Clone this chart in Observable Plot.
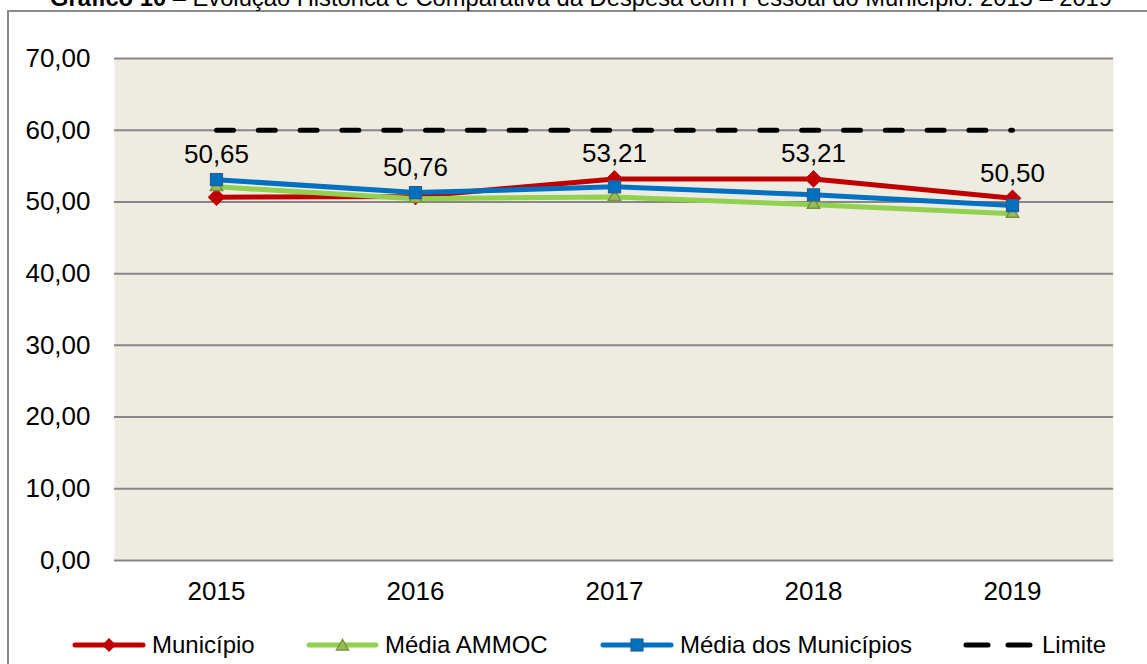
<!DOCTYPE html>
<html><head><meta charset="utf-8">
<script src="https://cdn.jsdelivr.net/npm/d3@7"></script>
<script src="https://cdn.jsdelivr.net/npm/@observablehq/plot@0.6"></script>
<style>
body{margin:0;background:#fff;font-family:"Liberation Sans",Arial,sans-serif;}
#wrap{position:relative;width:1147px;height:664px;overflow:hidden;background:#fff;}
#border{position:absolute;left:7px;top:10px;width:1300px;height:800px;border:2px solid #8a8a8a;box-sizing:border-box;}
#title{position:absolute;left:50px;top:-14px;font-size:24px;line-height:1;white-space:nowrap;transform-origin:0 0;color:#000;}
#chart{position:absolute;left:0;top:0;}
.lg{position:absolute;top:631px;height:28px;display:flex;align-items:center;font-size:24px;color:#000;white-space:nowrap;}
.lg svg{margin-right:7px;overflow:visible;}
</style></head>
<body>
<div id="wrap">
  <div id="border"></div>
  <div id="title"><b>Gráfico 10</b> – Evolução Histórica e Comparativa da Despesa com Pessoal do Município: 2015 – 2019</div>
  <div id="chart"></div>
</div>
<script>
const years = ["2015", "2016", "2017", "2018", "2019"];
const municipio = [50.65, 50.76, 53.21, 53.21, 50.50];
const mediaAmmoc = [52.1, 50.45, 50.7, 49.6, 48.35];
const mediaMunicipios = [53.1, 51.3, 52.1, 51.0, 49.5];
const limite = [60, 60, 60, 60, 60];
const yTicks = [0, 10, 20, 30, 40, 50, 60, 70];
const seriesNames = ["Município", "Média AMMOC", "Média dos Municípios", "Limite"];

const RED = "#C00000", GREEN = "#92D050", BLUE = "#0070C0";
const fmt = v => v.toFixed(2).replace(".", ",");

const rows = years.map((y, i) => ({
  year: y, mun: municipio[i], ammoc: mediaAmmoc[i], medMun: mediaMunicipios[i], lim: limite[i],
  top: Math.max(municipio[i], mediaAmmoc[i], mediaMunicipios[i])
}));

const chart = Plot.plot({
  width: 1147, height: 620,
  marginLeft: 114, marginRight: 34, marginTop: 58, marginBottom: 60,
  style: {fontFamily: "'Liberation Sans', Arial, sans-serif", fontSize: "26px", color: "#000", background: "transparent", overflow: "visible"},
  x: {type: "point", domain: years, padding: 0.5, label: null},
  y: {domain: [0, 70], label: null},
  marks: [
    Plot.frame({fill: "#EEECE1", stroke: null}),
    Plot.ruleY(yTicks, {stroke: "#878787", strokeWidth: 2}),
    Plot.axisY({ticks: yTicks, tickFormat: fmt, tickSize: 0, tickPadding: 24, fontSize: 26, label: null}),
    Plot.axisX({tickSize: 0, tickPadding: 21, fontSize: 26, label: null}),
    Plot.lineY(rows, {x: "year", y: "lim", stroke: "#000", strokeWidth: 5, strokeDasharray: "17,24.8", strokeLinecap: "round"}),
    Plot.lineY(rows, {x: "year", y: "mun", stroke: RED, strokeWidth: 5}),
    Plot.dot(rows, {x: "year", y: "mun", symbol: "diamond2", r: 7.5, fill: RED, stroke: RED, strokeWidth: 1}),
    Plot.lineY(rows, {x: "year", y: "ammoc", stroke: GREEN, strokeWidth: 5}),
    Plot.dot(rows, {x: "year", y: "ammoc", symbol: "triangle", r: 4.6, fill: "#9BBB59", stroke: "#77933C", strokeWidth: 1.5}),
    Plot.lineY(rows, {x: "year", y: "medMun", stroke: BLUE, strokeWidth: 5}),
    Plot.dot(rows, {x: "year", y: "medMun", symbol: "square", r: 6.8, fill: BLUE, stroke: "#2E5C8E", strokeWidth: 1.2}),
    Plot.text(rows, {x: "year", y: "top", text: d => fmt(d.mun), dy: -25, fontSize: 26, fill: "#000"})
  ]
});
document.getElementById("chart").appendChild(chart);

// title condensed to the reference width
const title = document.getElementById("title");
const tw = title.getBoundingClientRect().width;
title.style.transform = `scaleX(${1062 / tw})`;

// legend
const wrap = document.getElementById("wrap");
const legendItems = [
  {name: seriesNames[0], left: 73, w: 72, svg: (w) => `<line x1="2" y1="7" x2="${w-2}" y2="7" stroke="${RED}" stroke-width="5" stroke-linecap="round"/><path d="M${w/2},0 L${w/2+7},7 L${w/2},14 L${w/2-7},7Z" fill="${RED}"/>`},
  {name: seriesNames[1], left: 307, w: 71, svg: (w) => `<line x1="2" y1="7" x2="${w-2}" y2="7" stroke="${GREEN}" stroke-width="5" stroke-linecap="round"/><path d="M${w/2},1.5 L${w/2+6},12 L${w/2-6},12Z" fill="#9BBB59" stroke="#77933C" stroke-width="1.5"/>`},
  {name: seriesNames[2], left: 601, w: 72, svg: (w) => `<line x1="2" y1="7" x2="${w-2}" y2="7" stroke="${BLUE}" stroke-width="5" stroke-linecap="round"/><rect x="${w/2-6}" y="1" width="12" height="12" fill="${BLUE}" stroke="#2E5C8E" stroke-width="1.2"/>`},
  {name: seriesNames[3], left: 963, w: 72, svg: (w) => `<line x1="3" y1="7" x2="${w-3}" y2="7" stroke="#000" stroke-width="5" stroke-linecap="round" stroke-dasharray="22,20"/>`}
];
legendItems.forEach(it => {
  const d = document.createElement("div");
  d.className = "lg";
  d.style.left = it.left + "px";
  d.innerHTML = `<svg width="${it.w}" height="14" viewBox="0 0 ${it.w} 14">${it.svg(it.w)}</svg><span>${it.name}</span>`;
  wrap.appendChild(d);
});
</script>
</body></html>
